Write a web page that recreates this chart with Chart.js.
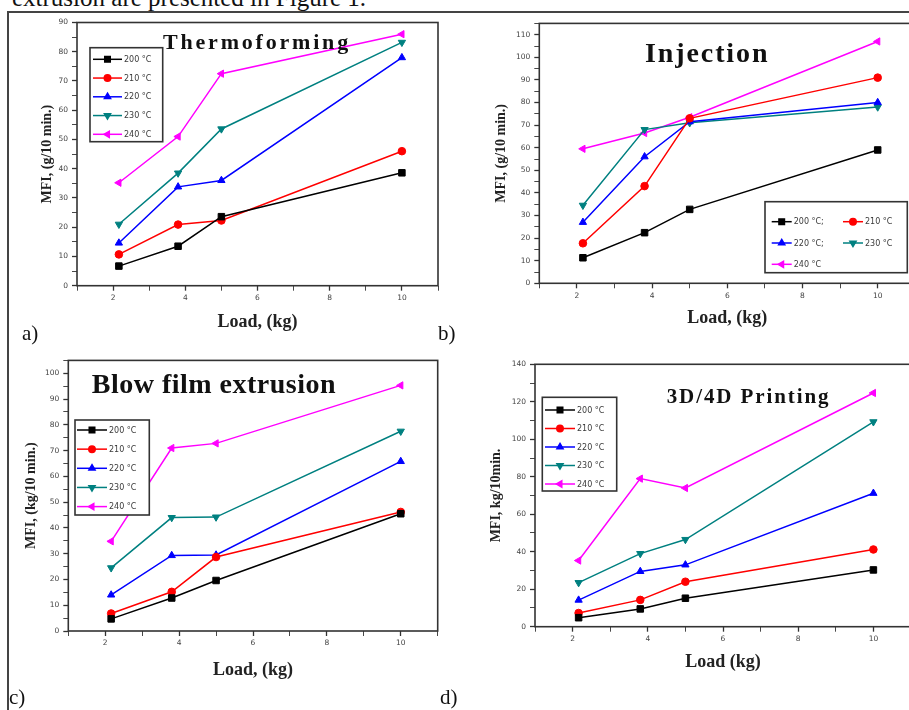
<!DOCTYPE html>
<html>
<head>
<meta charset="utf-8">
<title>MFI vs Load</title>
<script src="https://cdn.jsdelivr.net/npm/chart.js@4.4.0/dist/chart.umd.min.js"></script>
<style>
    html, body { margin: 0; padding: 0; background: #fff; }
    body { width: 909px; height: 710px; overflow: hidden; position: relative; font-family: "Liberation Serif", serif; color: #111; }
    canvas.panel { position: absolute; }
    .intro { position: absolute; left: 12px; top: -15px; font-size: 25px; line-height: 25px; white-space: nowrap; }
    .frame-top { position: absolute; left: 8px; top: 11px; width: 901px; height: 1.5px; background: #444; }
    .frame-left { position: absolute; left: 7px; top: 11px; width: 1.5px; height: 699px; background: #444; }
    .tag { position: absolute; font-size: 21px; line-height: 21px; }
</style>
</head>
<body>
<div class="intro">extrusion are presented in Figure 1.</div>
<div class="frame-top"></div>
<div class="frame-left"></div>

<canvas id="chart-a" class="panel"></canvas>
<canvas id="chart-b" class="panel"></canvas>
<canvas id="chart-c" class="panel"></canvas>
<canvas id="chart-d" class="panel"></canvas>

<div class="tag" style="left:22px; top:323px;">a)</div>
<div class="tag" style="left:438px; top:323px;">b)</div>
<div class="tag" style="left:9px; top:687px;">c)</div>
<div class="tag" style="left:440px; top:687px;">d)</div>

<script>
// Loads (kg) used for every test
const loads = [2.16, 3.8, 5, 10];
const tempLabels = ['200 °C', '210 °C', '220 °C', '230 °C', '240 °C'];
const injectionLabels = ['200 °C;', '210 °C', '220 °C;', '230 °C', '240 °C'];
const xTickLabels = [2, 4, 6, 8, 10];

// MFI per temperature (rows: 200, 210, 220, 230, 240 °C)
const thermoformingMfi = [
    [6.7, 13.5, 23.6, 38.6],
    [10.7, 20.9, 22.3, 46.0],
    [14.6, 33.8, 36.0, 78.0],
    [21.0, 38.5, 53.6, 83.2],
    [35.2, 51.0, 72.5, 86.0]
];
const injectionMfi = [
    [11.3, 22.4, 32.7, 59.0],
    [17.7, 43.0, 73.0, 91.0],
    [27.0, 56.0, 71.5, 80.0],
    [34.5, 68.0, 71.0, 78.0],
    [59.5, 66.5, 73.5, 107.0]
];
const blowFilmMfi = [
    [4.7, 12.8, 19.6, 45.5],
    [6.8, 15.2, 28.7, 46.2],
    [14.0, 29.3, 29.5, 65.8],
    [24.5, 44.0, 44.2, 77.5],
    [34.8, 71.0, 72.8, 95.3]
];
const printingMfi = [
    [4.8, 9.5, 15.2, 30.3],
    [7.3, 14.3, 24.0, 41.2],
    [14.2, 29.5, 33.0, 71.2],
    [23.5, 39.0, 46.5, 109.3],
    [35.3, 79.0, 74.0, 124.7]
];

// Series look (Origin style)
const seriesColors = ['#000000', '#ff0000', '#0000ff', '#008080', '#ff00ff'];
const seriesPoints = ['rect', 'circle', 'triangle', 'triangle', 'triangle'];
const seriesRotation = [0, 0, 0, 180, -90];
const seriesRadius = [4.6, 3.8, 4.2, 4.2, 4.2];

// Panel layout (page coordinates)
const panels = [
    {
        id: 'chart-a', data: thermoformingMfi, labels: tempLabels,
        yMax: 90, yMinor: 5, yMajor: 10, yLabelMax: 90,
        canvas: { left: 10, top: 14, width: 440, height: 320 },
        area: { left: 77, top: 21.5, right: 438, bottom: 285.7 },
        yTitle: 'MFI, (g/10 min.)', yTitleX: 47,
        xTitle: 'Load, (kg)', xTitleY: 322,
        title: { text: 'Thermoforming', x: 163, y: 48.5, size: 22, spacing: 2.8 },
        legend: { box: [90, 47.7, 162.7, 141.7], cols: 1, row0: 59.3, rowStep: 18.75, col0: 93, colStep: 0, sample: 29 }
    },
    {
        id: 'chart-b', data: injectionMfi, labels: injectionLabels,
        yMax: 115, yMinor: 5, yMajor: 10, yLabelMax: 110,
        canvas: { left: 460, top: 14, width: 470, height: 320 },
        area: { left: 539.3, top: 23.4, right: 915.3, bottom: 283.3 },
        yTitle: 'MFI, (g/10 min.)', yTitleX: 501.7,
        xTitle: 'Load, (kg)', xTitleY: 318,
        title: { text: 'Injection', x: 645, y: 61.7, size: 28, spacing: 1.9 },
        legend: { box: [765, 201.7, 907.3, 272.7], cols: 2, row0: 221.7, rowStep: 21.3, col0: 771.7, colStep: 71.3, sample: 20 }
    },
    {
        id: 'chart-c', data: blowFilmMfi, labels: tempLabels,
        yMax: 105, yMinor: 5, yMajor: 10, yLabelMax: 100,
        canvas: { left: 10, top: 350, width: 440, height: 340 },
        area: { left: 68.3, top: 360.4, right: 437.7, bottom: 631 },
        yTitle: 'MFI, (kg/10 min.)', yTitleX: 31.7,
        xTitle: 'Load, (kg)', xTitleY: 670,
        title: { text: 'Blow film extrusion', x: 91.7, y: 393.3, size: 28, spacing: 0.5 },
        legend: { box: [75, 420, 149.3, 515], cols: 1, row0: 430, rowStep: 19.15, col0: 77, colStep: 0, sample: 30 }
    },
    {
        id: 'chart-d', data: printingMfi, labels: tempLabels,
        yMax: 140, yMinor: 10, yMajor: 20, yLabelMax: 140,
        canvas: { left: 460, top: 350, width: 470, height: 340 },
        area: { left: 535, top: 364.3, right: 911, bottom: 626.7 },
        yTitle: 'MFI, kg/10min.', yTitleX: 496.7,
        xTitle: 'Load (kg)', xTitleY: 662.7,
        title: { text: '3D/4D Printing', x: 666.7, y: 402.7, size: 21, spacing: 1.9 },
        legend: { box: [542.3, 397.3, 616.7, 491], cols: 1, row0: 410, rowStep: 18.5, col0: 545, colStep: 0, sample: 30 }
    }
];

// Plot frame, in-plot title and boxed legend
const panelDecor = {
    id: 'panelDecor',
    afterDatasetsDraw(chart, args, opts) {
        const ctx = chart.ctx;
        const a = chart.chartArea;
        const ox = opts.originX;
        const oy = opts.originY;
        ctx.save();

        // box round the plot
        ctx.strokeStyle = '#333';
        ctx.lineWidth = 1.6;
        ctx.strokeRect(a.left, a.top, a.right - a.left, a.bottom - a.top);

        // title
        const t = opts.title;
        ctx.font = 'bold ' + t.size + 'px "Liberation Serif"';
        ctx.letterSpacing = t.spacing + 'px';
        ctx.fillStyle = '#111';
        ctx.textAlign = 'left';
        ctx.textBaseline = 'alphabetic';
        ctx.fillText(t.text, t.x - ox, t.y - oy);
        ctx.letterSpacing = '0px';

        // legend
        const L = opts.legend;
        const bx = L.box[0] - ox, by = L.box[1] - oy;
        const bw = L.box[2] - L.box[0], bh = L.box[3] - L.box[1];
        ctx.fillStyle = '#fff';
        ctx.fillRect(bx, by, bw, bh);
        ctx.strokeStyle = '#333';
        ctx.lineWidth = 1.6;
        ctx.strokeRect(bx, by, bw, bh);

        chart.data.datasets.forEach((ds, i) => {
            const col = i % L.cols;
            const row = Math.floor(i / L.cols);
            const x0 = L.col0 + col * L.colStep - ox;
            const y = L.row0 + row * L.rowStep - oy;
            ctx.strokeStyle = ds.borderColor;
            ctx.fillStyle = ds.backgroundColor;
            ctx.lineWidth = 1.5;
            ctx.beginPath();
            ctx.moveTo(x0, y);
            ctx.lineTo(x0 + L.sample, y);
            ctx.stroke();
            Chart.helpers.drawPoint(ctx, {
                pointStyle: ds.pointStyle,
                rotation: ds.pointRotation,
                radius: ds.pointRadius * 0.85,
                borderWidth: 1
            }, x0 + L.sample / 2, y);
            ctx.fillStyle = '#3a3a3a';
            ctx.font = '8px "DejaVu Sans"';
            ctx.textBaseline = 'middle';
            ctx.fillText(ds.label, x0 + L.sample + 2, y + 0.5);
        });

        ctx.restore();
    }
};

// Build one panel
function buildPanel(p) {
    const c = p.canvas;
    const el = document.getElementById(p.id);
    el.width = c.width;
    el.height = c.height;
    el.style.left = c.left + 'px';
    el.style.top = c.top + 'px';

    const yWidth = p.area.left - c.left;
    const xHeight = c.top + c.height - p.area.bottom;
    const xTitleFont = 18, yTitleFont = 14;

    new Chart(el, {
        type: 'line',
        data: {
            datasets: p.data.map((vals, i) => ({
                label: p.labels[i],
                data: loads.map((x, j) => ({ x: x, y: vals[j] })),
                borderColor: seriesColors[i],
                backgroundColor: seriesColors[i],
                pointStyle: seriesPoints[i],
                pointRotation: seriesRotation[i],
                pointRadius: seriesRadius[i],
                pointBorderWidth: 1,
                borderWidth: 1.5,
                tension: 0,
                fill: false
            }))
        },
        options: {
            responsive: false,
            animation: false,
            devicePixelRatio: 1,
            layout: {
                padding: { top: p.area.top - c.top, right: c.left + c.width - p.area.right, left: 0, bottom: 0 }
            },
            plugins: {
                legend: { display: false },
                tooltip: { enabled: false },
                panelDecor: { originX: c.left, originY: c.top, title: p.title, legend: p.legend }
            },
            scales: {
                x: {
                    type: 'linear',
                    min: 1,
                    max: 11,
                    afterFit: s => { s.height = xHeight; },
                    border: { display: false },
                    grid: {
                        drawOnChartArea: false,
                        tickLength: 5,
                        tickColor: '#333',
                        tickWidth: ctx => (ctx.tick && xTickLabels.includes(ctx.tick.value) ? 1.3 : 0.9)
                    },
                    ticks: {
                        stepSize: 1,
                        autoSkip: false,
                        maxRotation: 0,
                        padding: 3,
                        color: '#444',
                        font: { family: 'DejaVu Sans', size: 7.5 },
                        callback: v => (xTickLabels.includes(v) ? String(v) : '')
                    },
                    title: {
                        display: true,
                        text: p.xTitle,
                        color: '#222',
                        font: { family: 'Liberation Serif', size: xTitleFont, weight: 'bold', lineHeight: 1.2 },
                        padding: { top: 0, bottom: c.top + c.height - p.xTitleY - xTitleFont * 0.6 }
                    }
                },
                y: {
                    min: 0,
                    max: p.yMax,
                    afterFit: s => { s.width = yWidth; },
                    border: { display: false },
                    grid: {
                        drawOnChartArea: false,
                        tickLength: 5,
                        tickColor: '#333',
                        tickWidth: ctx => (ctx.tick && ctx.tick.value % p.yMajor === 0 ? 1.3 : 0.9)
                    },
                    ticks: {
                        stepSize: p.yMinor,
                        autoSkip: false,
                        padding: 4,
                        color: '#444',
                        font: { family: 'DejaVu Sans', size: 7.5 },
                        callback: v => (v % p.yMajor === 0 && v <= p.yLabelMax ? String(v) : '')
                    },
                    title: {
                        display: true,
                        text: p.yTitle,
                        color: '#222',
                        font: { family: 'Liberation Serif', size: yTitleFont, weight: 'bold', lineHeight: 1.2 },
                        padding: { top: p.yTitleX - c.left - yTitleFont * 0.6, bottom: 0 }
                    }
                }
            }
        },
        plugins: [panelDecor]
    });
}

panels.forEach(buildPanel);
</script>
</body>
</html>
